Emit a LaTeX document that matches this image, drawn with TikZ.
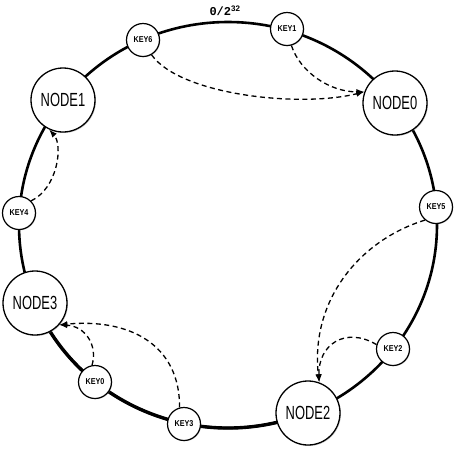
\documentclass[tikz,border=0pt]{standalone}
\usepackage{fontspec}
\setmainfont{Liberation Sans}
\newfontfamily\nodefont[FakeStretch=0.68]{Liberation Sans}
\newfontfamily\keyfont[FakeStretch=0.85]{Liberation Sans}
\newfontfamily\labelfont{Liberation Mono}
\usetikzlibrary{arrows.meta,shadows,calc}
\begin{document}
\begin{tikzpicture}[x=1pt,y=-1pt,
  ring/.style={line width=2.6pt},
  server/.style={circle,draw,line width=1.3pt,fill=white,minimum size=64pt,inner sep=0pt,
    font=\nodefont\fontsize{19}{19}\selectfont,
    drop shadow={shadow xshift=1pt,shadow yshift=-1pt,opacity=0.35}},
  keybox/.style={circle,draw,line width=1.2pt,fill=white,minimum size=33pt,inner sep=0pt,
    font=\keyfont\bfseries\fontsize{8.5}{8.5}\selectfont,
    drop shadow={shadow xshift=0.8pt,shadow yshift=-0.8pt,opacity=0.35}},
  lookup/.style={dashed,dash pattern=on 5pt off 3.5pt,line width=1.3pt,
    -{Latex[length=8pt,width=6pt]}}]
\useasboundingbox (0,0) rectangle (458,451);

% the hash ring, centred at (228,225)
\coordinate (c) at (228,225);
\draw[ring] (c) ellipse [x radius=209, y radius=203];
% heavier stretch from NODE3 round to NODE2
\draw[line width=3.4pt] ($(c)+(157:209 and 203)$) arc[start angle=157,end angle=67.5,x radius=209,y radius=203];

\node[font=\labelfont\bfseries\fontsize{12}{12}\selectfont] (zero) at (225,11) {0/2$^{\mathbf{32}}$};

% servers
\node[server] (node0) at (395,103) {NODE0};
\node[server] (node1) at (63,100) {NODE1};
\node[server] (node2) at (308,413) {NODE2};
\node[server] (node3) at (35,303) {NODE3};

% keys
\node[keybox] (key0) at (95,382) {KEY0};
\node[keybox] (key1) at (287,29) {KEY1};
\node[keybox] (key2) at (393,349) {KEY2};
\node[keybox] (key3) at (184,424) {KEY3};
\node[keybox] (key4) at (19,213) {KEY4};
\node[keybox] (key5) at (436,207) {KEY5};
\node[keybox] (key6) at (143,40) {KEY6};

% each key is stored on the next server clockwise
\draw[lookup] (key6.-60) .. controls (180,95) and (300,108) .. (node0.160);
\draw[lookup] (key1.-75) .. controls (300,72) and (330,92) .. (node0.160);
\draw[lookup] (key4.45) .. controls (58,188) and (63,145) .. (node1.-115);
\draw[lookup] (key0.100) .. controls (98,345) and (85,326) .. (node3.-42);
\draw[lookup] (key3.105) .. controls (180,345) and (130,318) .. (node3.-42);
\draw[lookup] (key5.-130) .. controls (360,240) and (310,300) .. (node2.70);
\draw[lookup] (key2.165) .. controls (345,326) and (318,345) .. (node2.70);
\end{tikzpicture}
\end{document}
